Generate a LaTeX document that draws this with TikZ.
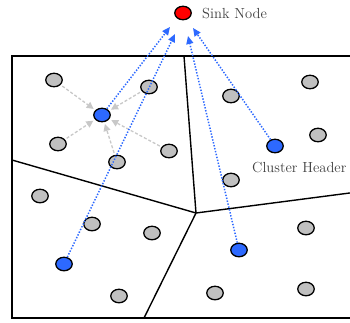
\documentclass[tikz,border=0pt]{standalone}
\usetikzlibrary{shapes.geometric,arrows.meta}
\definecolor{cblue}{RGB}{45,105,255}
\definecolor{cgray}{RGB}{192,192,192}
\definecolor{agray}{RGB}{200,200,200}
\begin{document}
\begin{tikzpicture}[x=1pt,y=-1pt,
  sn/.style={ellipse,draw=black,line width=1.3pt,minimum width=16.5pt,minimum height=13.5pt,inner sep=0pt},
  gnode/.style={sn,fill=cgray},
  bnode/.style={sn,fill=cblue},
  rnode/.style={sn,fill=red},
  border/.style={line width=1.4pt,black},
  garrow/.style={agray,line width=1.3pt,dash pattern=on 3pt off 2pt,-{Triangle[length=7pt,width=7pt]},shorten <=2pt,shorten >=2pt},
  barrow/.style={cblue,line width=1.5pt,dash pattern=on 1.4pt off 1.6pt,-{Triangle[length=8pt,width=7pt]}},
  lbl/.style={font=\fontsize{14.6}{16}\selectfont,text=black!75,inner sep=0pt}
]
\useasboundingbox (0,0) rectangle (350,322);
\begin{scope}
\clip (0,0) rectangle (350,322);
% region borders
\draw[border] (12,56) rectangle (360,318);
\coordinate (c) at (196,213);
\draw[border] (184,56) -- (c);
\draw[border] (12,160) -- (c);
\draw[border] (c) -- (352,192.7);
\draw[border] (c) -- (144,318);
\end{scope}
% sink
\node[rnode] (sink) at (183,13) {};
\node[lbl,anchor=west] (sinklbl) at (202,14) {Sink Node};
\node[lbl,anchor=west] (chlbl) at (252,168) {Cluster Header};
% gray nodes
\node[gnode] (g1) at (54,80) {};
\node[gnode] (g2) at (149,87) {};
\node[gnode] (g3) at (58,144) {};
\node[gnode] (g4) at (169,151) {};
\node[gnode] (g5) at (117,162) {};
\node[gnode] (g6) at (231,96) {};
\node[gnode] (g7) at (310,82) {};
\node[gnode] (g8) at (318,135) {};
\node[gnode] (g9) at (40,196) {};
\node[gnode] (g10) at (92,224) {};
\node[gnode] (g11) at (152,233) {};
\node[gnode] (g12) at (231,180) {};
\node[gnode] (g13) at (119,296) {};
\node[gnode] (g14) at (306,228) {};
\node[gnode] (g15) at (215,293) {};
\node[gnode] (g16) at (306,289) {};
% blue cluster heads
\node[bnode] (b1) at (102,115) {};
\node[bnode] (b2) at (275,146) {};
\node[bnode] (b3) at (64,264) {};
\node[bnode] (b4) at (239,250) {};
% gray arrows
\foreach \g in {g1,g2,g3,g4,g5}
  \draw[garrow] (\g) -- (b1);
% blue arrows to sink
\coordinate (t1) at (170,27);
\coordinate (t2) at (175,34);
\coordinate (t3) at (188,36);
\coordinate (t4) at (193,28);
\draw[barrow] (b1) -- (t1);
\draw[barrow] (b3) -- (t2);
\draw[barrow] (b4) -- (t3);
\draw[barrow] (b2) -- (t4);
\end{tikzpicture}
\end{document}
